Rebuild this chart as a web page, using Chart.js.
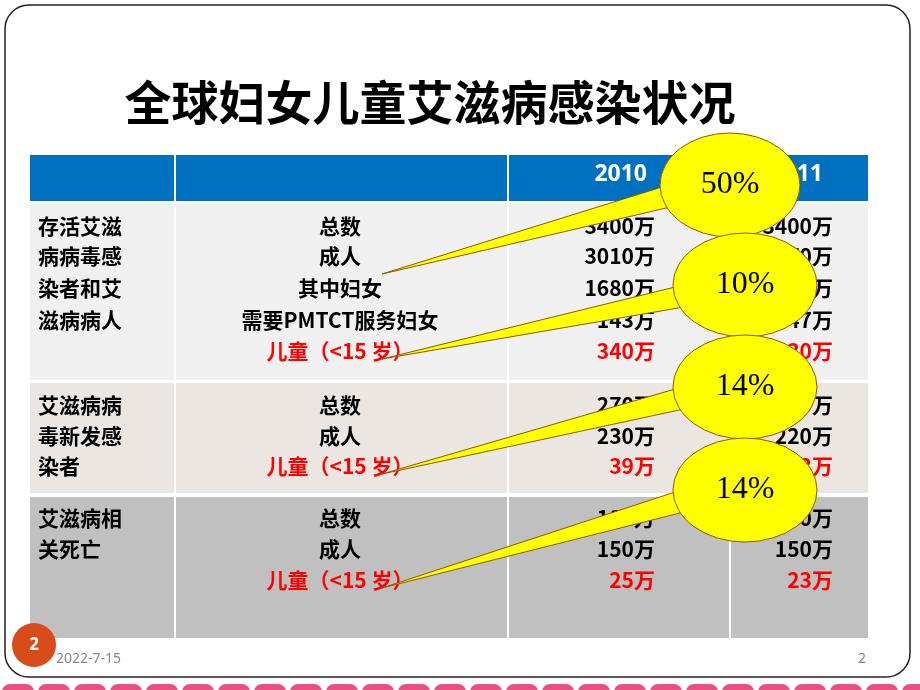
<!DOCTYPE html>
<html><head><meta charset="utf-8">
<script src="https://cdn.jsdelivr.net/npm/chart.js@4"></script>
<style>html,body{margin:0;background:#fff}#c{display:block}</style>
</head><body>
<div style="width:920px;height:690px"><canvas id="c"></canvas></div>
<script>
// table content
var years = ["2010", "2011"];
var groups = ["存活艾滋\n病病毒感\n染者和艾\n滋病病人", "艾滋病病\n毒新发感\n染者", "艾滋病相\n关死亡"];
var rowLabels = [
  ["总数", "成人", "其中妇女", "需要PMTCT服务妇女", "儿童（<15 岁）"],
  ["总数", "成人", "儿童（<15 岁）"],
  ["总数", "成人", "儿童（<15 岁）"]
];
var v2010 = [["3400万","3010万","1680万","143万","340万"],["270万","230万","39万"],["180万","150万","25万"]];
var v2011 = [["3400万","3070万","1670万","147万","330万"],["250万","220万","33万"],["170万","150万","23万"]];
var callouts = ["50%", "10%", "14%", "14%"];
var calloutRow = [[0,2],[0,4],[1,2],[2,2]];

var sections = [{y0:203,y1:380,bg:"#f0f0f0",lines:[226,256,288,320,351]},
                {y0:383,y1:493,bg:"#ebe6e1",lines:[405,436,466]},
                {y0:497,y1:638,bg:"#c0c0c0",lines:[518,549,580]}];
var bubbles = [{x:730,y:185,rx:70,ry:52},{x:745,y:285,rx:72,ry:52},{x:745,y:387,rx:72,ry:52},{x:745,y:490,rx:72,ry:52}];

var slide = {
  id:'slide',
  beforeDraw:function(ch){
    var c=ch.ctx, X=ch.scales.x, Y=ch.scales.y;
    function px(v){return X.getPixelForValue(v);} function py(v){return Y.getPixelForValue(v);}
    c.save();
    c.fillStyle="#fff"; c.fillRect(0,0,920,690);
    c.strokeStyle="#222"; c.lineWidth=1.5;
    c.beginPath(); c.roundRect(px(5),py(5),905,672,24); c.stroke();
    c.fillStyle="#ec4f82";
    for(var i=0;i<26;i++){c.beginPath();c.roundRect(i*36+2,684,32,20,8);c.fill();}
    c.fillStyle="#000"; c.font="bold 47px 'Noto Sans CJK SC'"; c.textAlign="center"; c.textBaseline="middle";
    c.fillText("全球妇女儿童艾滋病感染状况", px(430), py(102));
    c.fillStyle="#0070c0"; c.fillRect(px(30),py(155),838,46);
    c.fillStyle="#fff"; c.font="bold 23px 'Noto Sans'"; c.textAlign="right";
    c.fillText(years[0],px(647),py(174)); c.fillText(years[1],px(823),py(174));
    sections.forEach(function(s,k){
      c.fillStyle=s.bg; c.fillRect(px(30),py(s.y0),838,s.y1-s.y0);
      c.font="bold 21px 'Noto Sans CJK SC'";
      c.fillStyle="#000"; c.textAlign="left";
      groups[k].split("\n").forEach(function(t,j){c.fillText(t,px(38),py(s.lines[j]));});
      s.lines.forEach(function(ly,j){
        var red=rowLabels[k][j].indexOf("儿童")===0;
        c.fillStyle=red?"#ff0000":"#000";
        c.textAlign="center"; c.fillText(rowLabels[k][j],px(340),py(ly));
        c.textAlign="right"; c.fillText(v2010[k][j],px(655),py(ly)); c.fillText(v2011[k][j],px(833),py(ly));
      });
    });
    c.strokeStyle="#fff"; c.lineWidth=2;
    [175,508,730].forEach(function(x){c.beginPath();c.moveTo(px(x),py(155));c.lineTo(px(x),py(638));c.stroke();});
    c.fillStyle="#d84b1a"; c.beginPath(); c.arc(34,645,22,0,7); c.fill();
    c.fillStyle="#fff"; c.font="bold 17px 'Noto Sans'"; c.textAlign="center"; c.fillText("2",34,645);
    c.fillStyle="#888"; c.font="14px 'Liberation Sans Narrow','Noto Sans'"; c.textAlign="left"; c.fillText("2022-7-15",56,659);
    c.textAlign="right"; c.fillText("2",866,659);
    c.restore();
  },
  afterDatasetsDraw:function(ch){
    var c=ch.ctx, meta=ch.getDatasetMeta(0);
    c.save();
    meta.data.forEach(function(p,i){
      var b=bubbles[i], r=calloutRow[i], tx=382;
      var ty=sections[r[0]].lines[r[1]]-(r[0]===0&&r[1]===2?14:-8);
      c.fillStyle="#ffff00"; c.strokeStyle="#8a5a00"; c.lineWidth=1;
      c.beginPath(); c.moveTo(p.x-b.rx*0.97,p.y+2); c.lineTo(tx,ty); c.lineTo(p.x-b.rx*0.85,p.y+22); c.closePath(); c.fill(); c.stroke();
      c.beginPath(); c.ellipse(p.x,p.y,b.rx,b.ry,0,0,7); c.fill(); c.stroke();
      c.beginPath(); c.moveTo(p.x-b.rx*0.97,p.y+2); c.lineTo(p.x-b.rx*0.85,p.y+22); c.lineWidth=3; c.strokeStyle="#ffff00"; c.stroke();
      c.fillStyle="#000"; c.font="32px 'Liberation Serif'"; c.textAlign="center"; c.textBaseline="middle";
      c.fillText(callouts[i],p.x,p.y);
    });
    c.restore();
  }
};

new Chart(document.getElementById('c'),{
  type:'scatter',
  data:{datasets:[{data:bubbles.map(function(b){return {x:b.x,y:b.y};}),pointRadius:0}]},
  options:{responsive:true,maintainAspectRatio:false,animation:false,layout:{padding:0},
    plugins:{legend:{display:false},tooltip:{enabled:false}},
    scales:{x:{type:'linear',min:0,max:920,display:false},y:{type:'linear',min:0,max:690,reverse:true,display:false}}},
  plugins:[slide]
});
</script>
</body></html>
